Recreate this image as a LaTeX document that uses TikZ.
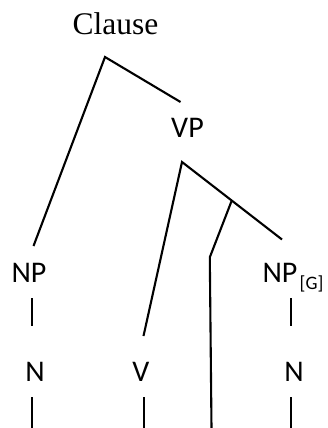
\documentclass[tikz,border=0pt]{standalone}
\usepackage{fontspec}
\setmainfont{Liberation Serif}
\newfontfamily\calfont{Carlito}
\begin{document}
\begin{tikzpicture}[x=1pt,y=-1pt,
  branch/.style={draw=black,line width=2.1pt},
  sanslabel/.style={inner sep=0pt,anchor=base,font=\calfont\fontsize{30}{36}\selectfont},
  seriflabel/.style={inner sep=0pt,anchor=base,font=\fontsize{31.5}{38}\selectfont}]
\useasboundingbox (0,0) rectangle (327,428);
% labels
\node[seriflabel] (clause) at (115.5,35) {Clause};
\node[sanslabel] (vp) at (187.5,137) {VP};
\node[sanslabel] (npl) at (29,282) {NP};
\node[sanslabel] (npg) at (280,282.3) {NP};
\node[inner sep=0pt,anchor=base west,font=\calfont\fontsize{19}{23}\selectfont] (gsub) at (299.5,289) {[G]};
\node[sanslabel] (nl) at (35,381) {N};
\node[sanslabel] (vv) at (141,381) {V};
\node[sanslabel] (nr) at (294,381) {N};
% branch points
\coordinate (ctop) at (105,57);
\coordinate (cvp) at (180.5,102);
\coordinate (cnp) at (33.5,246);
\coordinate (vtop) at (182,162);
\coordinate (vv1) at (143.5,336);
\coordinate (vnp) at (282,239.5);
\coordinate (vmid) at (231.5,201.2);
\coordinate (vbend) at (209.8,257.3);
\coordinate (vbot) at (211.5,428);
\coordinate (b1t) at (32.3,298);
\coordinate (b1b) at (32.3,326);
\coordinate (b2t) at (291,298);
\coordinate (b2b) at (291,326);
\coordinate (b3t) at (32.3,397);
\coordinate (b3b) at (32.3,428);
\coordinate (b4t) at (144,397);
\coordinate (b4b) at (144,428);
\coordinate (b5t) at (291,397);
\coordinate (b5b) at (291,428);
% lines
\draw[branch] (cnp) -- (ctop) -- (cvp);
\draw[branch] (vv1) -- (vtop) -- (vnp);
\draw[branch] (vmid) -- (vbend) -- (vbot);
\draw[branch] (b1t) -- (b1b);
\draw[branch] (b2t) -- (b2b);
\draw[branch] (b3t) -- (b3b);
\draw[branch] (b4t) -- (b4b);
\draw[branch] (b5t) -- (b5b);
\end{tikzpicture}
\end{document}
